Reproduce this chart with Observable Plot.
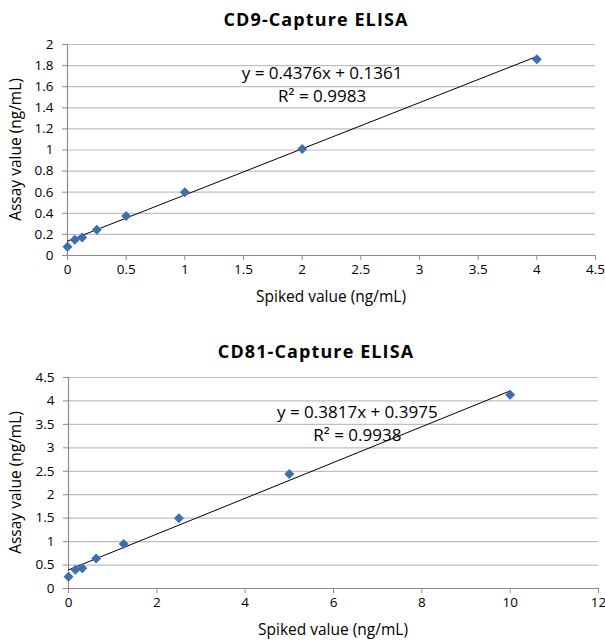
<!DOCTYPE html>
<html>
<head>
<meta charset="utf-8">
<script src="https://cdn.jsdelivr.net/npm/d3@7"></script>
<script src="https://cdn.jsdelivr.net/npm/@observablehq/plot@0.6"></script>
<style>
  html, body { margin: 0; padding: 0; background: #fff; }
  #charts svg { display: block; }
</style>
</head>
<body>
<div id="charts"></div>
<script>
// CD9 capture ELISA: spiked vs. measured concentration (ng/mL)
const cd9Spiked = [0, 0.0625, 0.125, 0.25, 0.5, 1, 2, 4];
const cd9Assay = [0.083, 0.15, 0.17, 0.245, 0.375, 0.60, 1.01, 1.86];
const cd9Slope = 0.4376, cd9Intercept = 0.1361, cd9R2 = "0.9983";
const cd9XTicks = [0, 0.5, 1, 1.5, 2, 2.5, 3, 3.5, 4, 4.5];
const cd9YTicks = [0, 0.2, 0.4, 0.6, 0.8, 1, 1.2, 1.4, 1.6, 1.8, 2];

// CD81 capture ELISA
const cd81Spiked = [0, 0.15625, 0.3125, 0.625, 1.25, 2.5, 5, 10];
const cd81Assay = [0.25, 0.40, 0.43, 0.64, 0.95, 1.50, 2.44, 4.13];
const cd81Slope = 0.3817, cd81Intercept = 0.3975, cd81R2 = "0.9938";
const cd81XTicks = [0, 2, 4, 6, 8, 10, 12];
const cd81YTicks = [0, 0.5, 1, 1.5, 2, 2.5, 3, 3.5, 4, 4.5];

const FONT = "'Open Sans', sans-serif";
const AXIS_GRAY = "#8c8c8c";
const GRID_GRAY = "#bfbfbf";
const MARKER = "#3d6db3";

function calibrationChart(o) {
  const points = o.xs.map((x, i) => ({x, y: o.ys[i]}));
  const [xMin, xMax] = d3.extent(o.xs);
  const fit = [xMin, xMax].map(x => ({x, y: o.slope * x + o.intercept}));
  const eq = `y = ${o.slope}x + ${o.intercept}`;
  const xDomain = d3.extent(o.xTicks), yDomain = d3.extent(o.yTicks);

  const svg = Plot.plot({
    width: 605,
    height: o.height,
    marginTop: o.marginTop,
    marginBottom: o.marginBottom,
    marginLeft: o.marginLeft,
    marginRight: o.marginRight,
    style: {fontFamily: FONT, fontSize: "13.5px", color: "#000", background: "#fff"},
    x: {domain: xDomain, label: null},
    y: {domain: yDomain, label: null},
    marks: [
      Plot.ruleY(o.yTicks.filter(d => d !== yDomain[0]), {stroke: GRID_GRAY, strokeWidth: 1.2}),
      Plot.axisY(o.yTicks, {tickSize: 5, tickPadding: 9, stroke: AXIS_GRAY, fill: "#000", tickFormat: d => String(d), label: null}),
      Plot.axisX(o.xTicks, {tickSize: 5, tickPadding: 4, stroke: AXIS_GRAY, fill: "#000", tickFormat: d => String(d), label: null}),
      Plot.ruleX([xDomain[0]], {stroke: AXIS_GRAY, strokeWidth: 1.2}),
      Plot.ruleY([yDomain[0]], {stroke: AXIS_GRAY, strokeWidth: 1.2}),
      Plot.line(fit, {x: "x", y: "y", stroke: "#000", strokeWidth: 1}),
      Plot.dot(points, {x: "x", y: "y", symbol: "diamond2", r: 4.5, fill: MARKER, stroke: "none"}),
      Plot.text([eq], {x: o.eqX, y: o.eqY, text: d => d, fontSize: 17, fill: "#000"}),
      Plot.text([`R\u00b2 = ${o.r2}`], {x: o.eqX, y: o.eqY, dy: 23, text: d => d, fontSize: 17, fill: "#000"})
    ]
  });

  const s = d3.select(svg);
  const plotTop = o.marginTop, plotBottom = o.height - o.marginBottom;
  const plotLeft = o.marginLeft, plotRight = 605 - o.marginRight;
  s.append("text")
    .attr("x", o.titleX).attr("y", o.titleY)
    .attr("text-anchor", "middle")
    .attr("font-family", FONT).attr("font-weight", "bold").attr("font-size", 18)
    .attr("letter-spacing", 1.1)
    .attr("fill", "#000")
    .text(o.title);
  s.append("text")
    .attr("x", (plotLeft + plotRight) / 2).attr("y", plotBottom + 47)
    .attr("text-anchor", "middle")
    .attr("font-family", FONT).attr("font-size", 15.5).attr("fill", "#000")
    .text("Spiked value (ng/mL)");
  s.append("text")
    .attr("transform", `translate(21,${(plotTop + plotBottom) / 2}) rotate(-90)`)
    .attr("text-anchor", "middle")
    .attr("font-family", FONT).attr("font-size", 15.5).attr("fill", "#000")
    .text("Assay value (ng/mL)");
  return svg;
}

const root = document.getElementById("charts");
root.append(calibrationChart({
  title: "CD9-Capture ELISA", titleX: 316, titleY: 26,
  xs: cd9Spiked, ys: cd9Assay, slope: cd9Slope, intercept: cd9Intercept, r2: cd9R2,
  xTicks: cd9XTicks, yTicks: cd9YTicks,
  eqX: 2.17, eqY: 1.72,
  height: 320, marginTop: 44, marginBottom: 65, marginLeft: 67, marginRight: 10
}));
root.append(calibrationChart({
  title: "CD81-Capture ELISA", titleX: 316, titleY: 38,
  xs: cd81Spiked, ys: cd81Assay, slope: cd81Slope, intercept: cd81Intercept, r2: cd81R2,
  xTicks: cd81XTicks, yTicks: cd81YTicks,
  eqX: 6.54, eqY: 3.76,
  height: 323, marginTop: 57, marginBottom: 55, marginLeft: 68, marginRight: 7
}));
</script>
</body>
</html>
